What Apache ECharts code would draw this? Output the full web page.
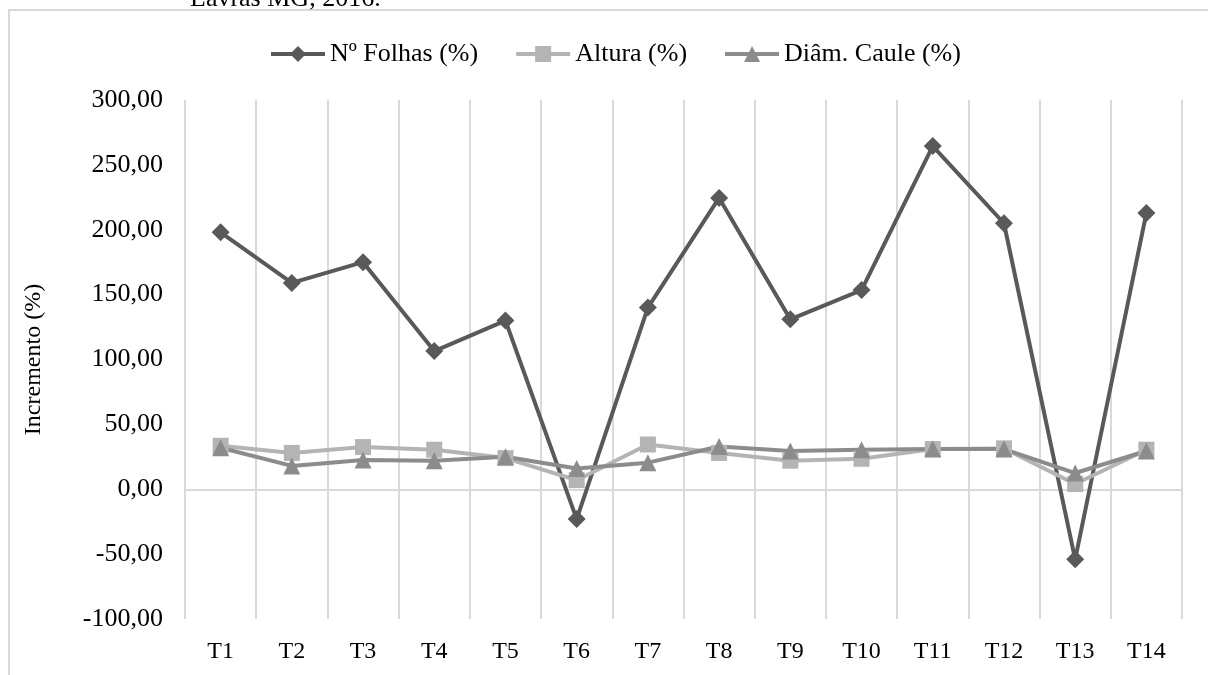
<!DOCTYPE html>
<html>
<head>
<meta charset="utf-8">
<script src="https://cdn.jsdelivr.net/npm/echarts@6/dist/echarts.min.js"></script>
<style>
html, body { margin: 0; padding: 0; background: #fff; }
#chart { width: 1208px; height: 675px; }
</style>
</head>
<body>
<div id="chart"></div>
<script>
// categorias (tratamentos)
const categories = ['T1', 'T2', 'T3', 'T4', 'T5', 'T6', 'T7', 'T8', 'T9', 'T10', 'T11', 'T12', 'T13', 'T14']
// incremento em %
const folhas = [198, 159, 175, 106.5, 130, -23, 140, 224.5, 131, 153.5, 264.5, 205, -54, 213]
const altura = [33.5, 28, 32.5, 30.5, 24, 7, 34.5, 28, 22, 23.5, 31, 31.5, 4, 30.5]
const diametro = [32, 18, 22.5, 22, 25, 16, 20.5, 33, 29.5, 30.5, 31, 31, 12.5, 29.5]
// eixo y
const yMin = -100
const yMax = 300
const yStep = 50

const font = 'Liberation Serif'
const gridColor = '#d9d9d9'

let myChart = echarts.init(document.getElementById('chart'))
myChart.setOption({
  animation: false,
  textStyle: { fontFamily: font },
  graphic: [
    {
      type: 'rect',
      shape: { x: 9, y: 10, width: 1260, height: 720 },
      style: { fill: 'none', stroke: gridColor, lineWidth: 2 }
    },
    {
      type: 'text',
      x: 190,
      y: 12,
      style: {
        text: 'Lavras MG, 2016.',
        font: '26px "Liberation Serif"',
        fill: '#000',
        verticalAlign: 'bottom'
      }
    }
  ],
  legend: {
    top: 36,
    left: 264,
    itemWidth: 54,
    itemHeight: 20,
    itemGap: 36,
    lineStyle: { width: 4 },
    textStyle: { fontFamily: font, fontSize: 26, color: '#000' },
    data: ['Nº Folhas (%)', 'Altura (%)', 'Diâm. Caule (%)']
  },
  grid: {
    left: 185,
    right: 26,
    top: 100,
    bottom: 56
  },
  xAxis: [
    {
      type: 'category',
      data: categories,
      boundaryGap: true,
      axisLine: { show: false, onZero: false },
      axisTick: { show: false },
      axisLabel: { color: '#000', fontSize: 24, margin: 21, fontFamily: font },
      splitLine: { show: true, lineStyle: { color: gridColor, width: 2 } }
    },
    {
      // linha do zero
      type: 'category',
      data: categories,
      position: 'bottom',
      axisLine: { show: true, onZero: true, lineStyle: { color: gridColor, width: 2 } },
      axisTick: { show: false },
      axisLabel: { show: false },
      splitLine: { show: false }
    }
  ],
  yAxis: {
    type: 'value',
    min: yMin,
    max: yMax,
    interval: yStep,
    name: 'Incremento (%)',
    nameLocation: 'middle',
    nameGap: 139,
    nameTextStyle: { color: '#000', fontSize: 24, fontFamily: font },
    axisLine: { show: false },
    axisTick: { show: false },
    splitLine: { show: false },
    axisLabel: {
      color: '#000',
      fontSize: 26,
      margin: 22,
      fontFamily: font,
      formatter: function (value) {
        return value.toFixed(2).replace('.', ',')
      }
    }
  },
  series: [
    {
      name: 'Nº Folhas (%)',
      type: 'line',
      data: folhas,
      symbol: 'diamond',
      symbolSize: 18,
      color: '#595959',
      lineStyle: { width: 4 }
    },
    {
      name: 'Altura (%)',
      type: 'line',
      data: altura,
      symbol: 'rect',
      symbolSize: 16,
      color: '#b4b4b4',
      lineStyle: { width: 4 }
    },
    {
      name: 'Diâm. Caule (%)',
      type: 'line',
      data: diametro,
      symbol: 'triangle',
      symbolSize: 17,
      color: '#8c8c8c',
      lineStyle: { width: 4 }
    }
  ]
})
window.addEventListener('resize', function () {
  myChart.resize()
})
</script>
</body>
</html>
